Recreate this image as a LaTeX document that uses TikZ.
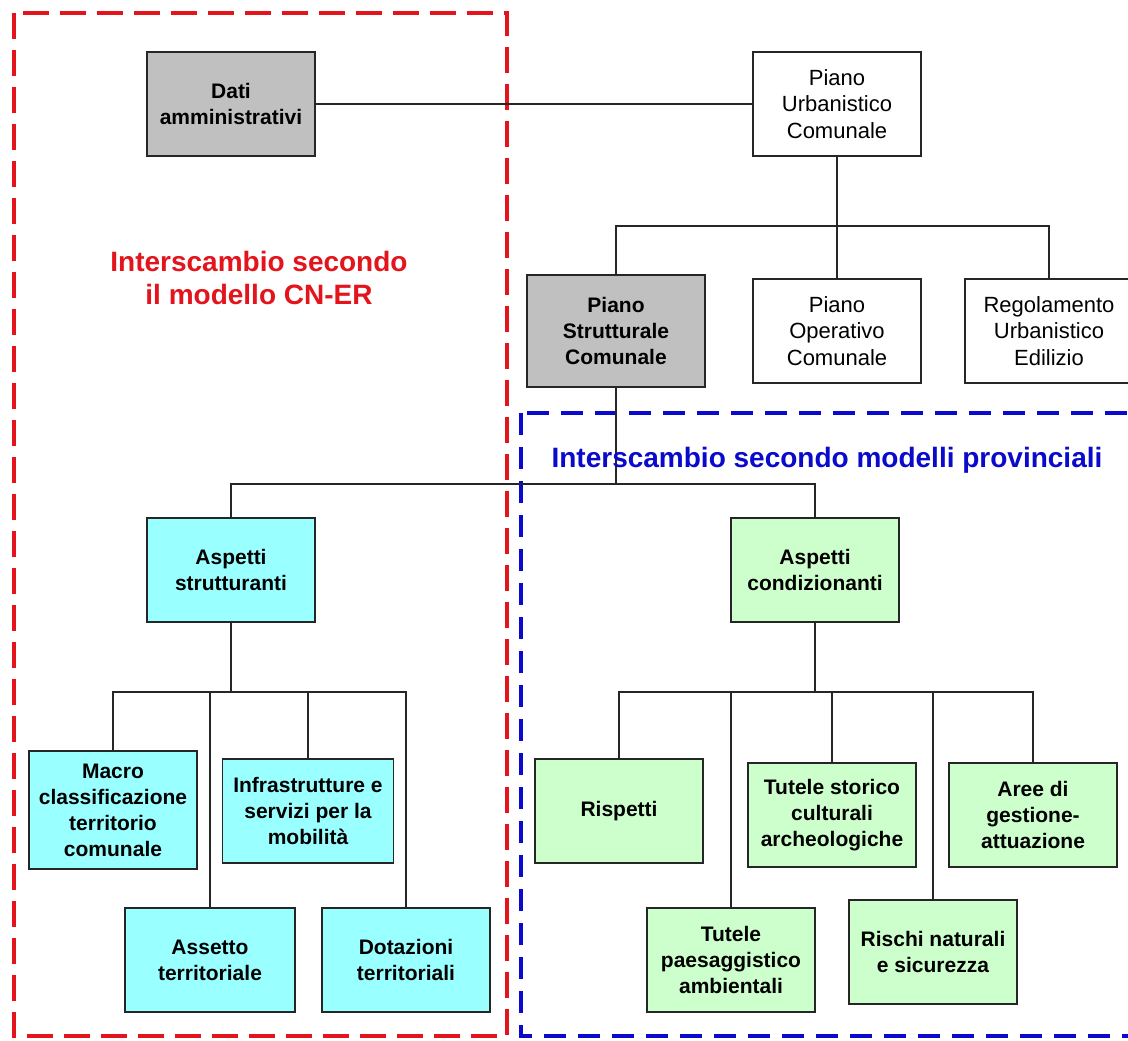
\documentclass[tikz,border=0pt]{standalone}
\usepackage{fontspec}
\setmainfont{Liberation Sans}
\usepackage{xcolor}
\usepackage{tikz}
\definecolor{grigio}{HTML}{C0C0C0}
\definecolor{ciano}{HTML}{99FFFF}
\definecolor{verdino}{HTML}{CCFFCC}
\definecolor{rosso}{HTML}{E3141B}
\definecolor{blu}{HTML}{0A0ACC}

\begin{document}
\begin{tikzpicture}[x=1pt, y=-1pt,
          every node/.style={font=\fontsize{21}{26}\selectfont},
          box/.style={draw=black!85, line width=1.4pt,
                      minimum width=168pt, minimum height=104pt,
                      align=center, inner sep=3pt},
          plain/.style={box, font=\fontsize{22}{26.5}\selectfont},
          greybox/.style={box, fill=grigio, font=\bfseries\fontsize{21}{26}\selectfont},
          cyanbox/.style={box, fill=ciano, font=\bfseries\fontsize{21}{26}\selectfont},
          greenbox/.style={box, fill=verdino, font=\bfseries\fontsize{21}{26}\selectfont},
          title/.style={font=\bfseries\fontsize{28}{33}\selectfont, align=center},
          link/.style={line width=1.3pt, draw=black!85}
      ]
        \clip (0,0) rectangle (1128,1041);
        \fill[white] (0,0) rectangle (1128,1041);

        % exchange areas
        \draw[rosso, line width=4pt, dash pattern=on 26pt off 11pt]
              (14,13) rectangle (507,1036);
        \draw[blu, line width=4pt, dash pattern=on 22pt off 12pt]
              (521,413) rectangle (1136,1036);

        \node[greybox] (dati) at (231,104) {Dati\\amministrativi};
        \node[plain] (puc) at (837,104) {Piano\\Urbanistico\\Comunale};

        \node[greybox, minimum width=178pt, minimum height=112pt] (psc) at (616,331)
              {Piano\\Strutturale\\Comunale};
        \node[plain] (poc) at (837,331) {Piano\\Operativo\\Comunale};
        \node[plain] (rue) at (1049,331) {Regolamento\\Urbanistico\\Edilizio};

        \node[cyanbox] (strut) at (231,570) {Aspetti\\strutturanti};
        \node[greenbox] (cond) at (815,570) {Aspetti\\condizionanti};

        \node[cyanbox, minimum height=118pt] (macro) at (113,810)
              {Macro\\classificazione\\territorio\\comunale};
        \node[cyanbox, minimum width=171pt] (infra) at (308,811)
              {Infrastrutture e\\servizi per la\\mobilità};
        \node[cyanbox, minimum width=170pt] (assetto) at (210,960) {Assetto\\territoriale};
        \node[cyanbox] (dotaz) at (406,960) {Dotazioni\\territoriali};

        \node[greenbox] (risp) at (619,811) {Rispetti};
        \node[greenbox] (storico) at (832,815) {Tutele storico\\culturali\\archeologiche};
        \node[greenbox] (aree) at (1033,815) {Aree di\\gestione-\\attuazione};
        \node[greenbox] (paes) at (731,960) {Tutele\\paesaggistico\\ambientali};
        \node[greenbox] (rischi) at (933,952) {Rischi naturali\\e sicurezza};

        % branch points
        \coordinate (sp1) at (837,226);
        \coordinate (sp2) at (616,484);
        \coordinate (sp3) at (231,692);
        \coordinate (sp4) at (815,692);

        \draw[link] (dati) -- (puc);
        \draw[link] (puc) -- (poc);
        \draw[link] (psc.north) |- (sp1) -| (rue.north);
        \draw[link] (psc) -- (sp2);
        \draw[link] (strut.north) |- (sp2) -| (cond.north);
        \draw[link] (strut) -- (sp3);
        \draw[link] (macro.north) |- (sp3) -| (dotaz.north);
        \draw[link] (assetto.north) -- (assetto.north |- sp3);
        \draw[link] (infra.north) -- (infra.north |- sp3);
        \draw[link] (cond) -- (sp4);
        \draw[link] (risp.north) |- (sp4) -| (aree.north);
        \draw[link] (paes.north) -- (paes.north |- sp4);
        \draw[link] (storico.north) -- (storico.north |- sp4);
        \draw[link] (rischi.north) -- (rischi.north |- sp4);

        \node[title, text=rosso] (cner) at (259,278)
              {Interscambio secondo\\il modello CN-ER};
        \node[title, text=blu] (prov) at (827,460)
              {Interscambio secondo modelli provinciali};
      \end{tikzpicture}
\end{document}
